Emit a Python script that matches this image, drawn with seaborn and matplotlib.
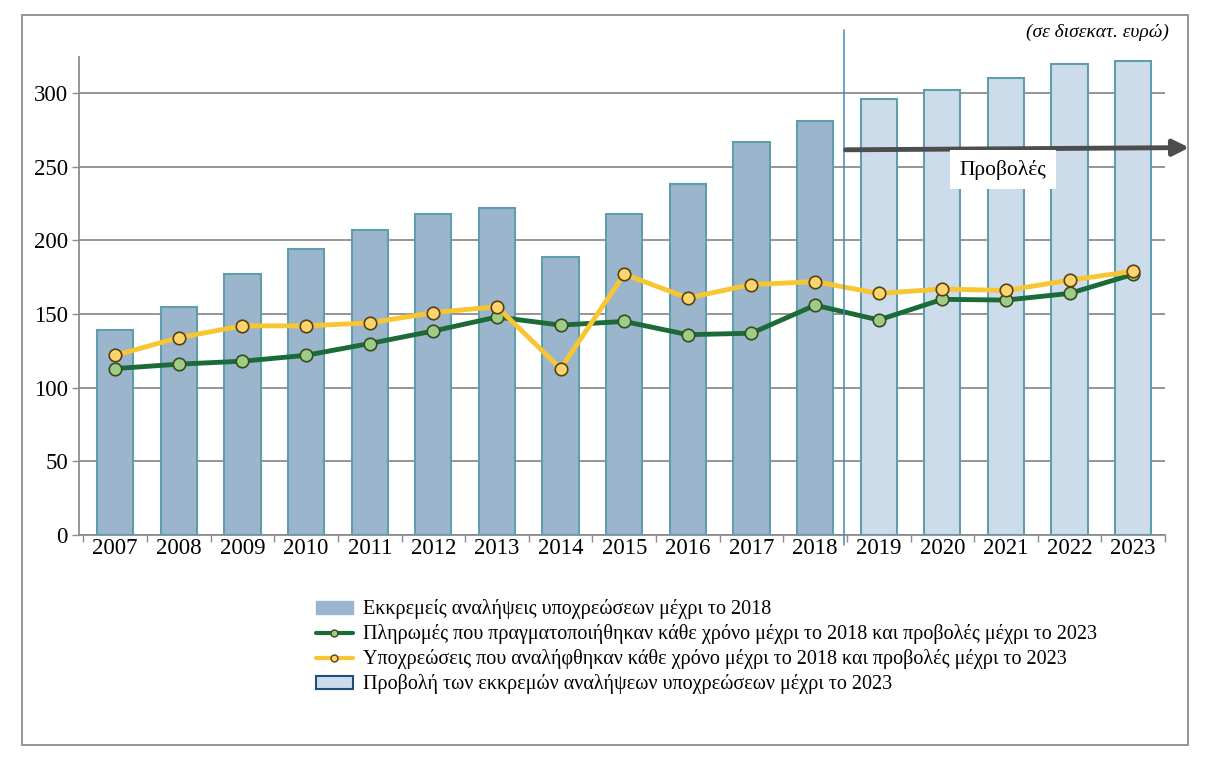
import numpy as np
import pandas as pd
import matplotlib
matplotlib.use("Agg")
import matplotlib.pyplot as plt
import seaborn as sns
from matplotlib.patches import Patch, Rectangle
from matplotlib.lines import Line2D

years = [str(y) for y in range(2007, 2024)]
outstanding = [139, 155, 177, 194, 207, 218, 222, 189, 218, 238, 267, 281,
               296, 302, 310, 320, 322]
payments = [113, 116, 118, 122, 130, 138.5, 148, 142.5, 145, 136, 137, 156,
            146, 160, 159.5, 164, 177]
commitments = [122, 134, 142, 142, 144, 151, 155, 113, 177, 161, 170, 172,
               164, 167, 166, 173, 179]
period = ["hist"] * 12 + ["proj"] * 5

leg_labels = [
    "Εκκρεμείς αναλήψεις υποχρεώσεων μέχρι το 2018",
    "Πληρωμές που πραγματοποιήθηκαν κάθε χρόνο μέχρι το 2018 και προβολές μέχρι το 2023",
    "Υποχρεώσεις που αναλήφθηκαν κάθε χρόνο μέχρι το 2018 και προβολές μέχρι το 2023",
    "Προβολή των εκκρεμών αναλήψεων υποχρεώσεων μέχρι το 2023",
]

sns.set_theme(style="white")
plt.rcParams['font.family'] = ['Liberation Serif', 'DejaVu Serif']
plt.rcParams['text.color'] = 'black'
plt.rcParams['xtick.color'] = 'black'
plt.rcParams['ytick.color'] = 'black'

C_HIST = "#9bb6cc"
C_PROJ = "#cddcea"
C_EDGE = "#5f9ead"
C_GREEN = "#1b6b38"
C_GREEN_M = "#9dcc86"
C_YEL = "#f8c533"
C_YEL_M = "#fcd66c"
C_GRID = "#8c8c8c"

fig = plt.figure(figsize=(12.09, 7.64), dpi=100)
ax = fig.add_axes([0.0653, 0.2997, 0.9636 - 0.0653, 0.9254 - 0.2997])

df = pd.DataFrame({"year": years, "val": outstanding, "period": period})
sns.barplot(data=df, x="year", y="val", hue="period", order=years,
            palette={"hist": C_HIST, "proj": C_PROJ}, dodge=False,
            saturation=1, width=0.57, edgecolor=C_EDGE, linewidth=1.5,
            legend=False, ax=ax, zorder=3)

xs = np.arange(len(years))
sns.lineplot(x=xs, y=payments, color=C_GREEN, lw=3.5, marker="o",
             markersize=9, markerfacecolor=C_GREEN_M, markeredgecolor="#3a4a20",
             markeredgewidth=1.2, ax=ax, zorder=5)
sns.lineplot(x=xs, y=commitments, color=C_YEL, lw=3.5, marker="o",
             markersize=9, markerfacecolor=C_YEL_M, markeredgecolor="#5a4010",
             markeredgewidth=1.2, ax=ax, zorder=6)

ax.set_xlim(-0.57, 16.5)
ax.set_ylim(0, 324.5)
ax.set_yticks([0, 50, 100, 150, 200, 250, 300])
ax.yaxis.grid(True, color=C_GRID, lw=1.3, zorder=0)
ax.set_axisbelow(True)
ax.set_xlabel("")
ax.set_ylabel("")
for s in ["top", "right"]:
    ax.spines[s].set_visible(False)
for s in ["left", "bottom"]:
    ax.spines[s].set_color(C_GRID)
    ax.spines[s].set_linewidth(1.3)
ax.tick_params(axis="y", labelsize=16.5, length=5, color=C_GRID, width=1, pad=3,
               left=True)
ax.set_xticks(xs, years)
ax.tick_params(axis="x", labelsize=16.5, length=0, pad=2)
ax.set_xticks(np.arange(-0.5, 16.6, 1.0), minor=True)
ax.tick_params(axis="x", which="minor", length=5, color=C_GRID, width=1,
               bottom=True, direction="out")

# vertical divider line
ax.plot([11.45, 11.45], [-7, 343], color="#4a86b8", lw=1.1, clip_on=False,
        zorder=7)

# projections arrow
ax.annotate("", xy=(16.88, 263), xytext=(11.48, 261.5), annotation_clip=False,
            arrowprops=dict(arrowstyle="-|>,head_length=0.8,head_width=0.4",
                            color="#4d4d4d", lw=3.5, shrinkA=0, shrinkB=0),
            zorder=8)
ax.text(13.95, 248, "Προβολές", fontsize=15.5, ha="center", va="center",
        zorder=9, bbox=dict(facecolor="white", edgecolor="none", pad=7))

fig.text(0.967, 0.958, "(σε δισεκατ. ευρώ)", fontsize=14, style="italic",
         ha="right", va="center")

# outer frame
fig.patches.append(Rectangle((0.0182, 0.0249), 0.9826 - 0.0182, 0.980 - 0.0249,
                             transform=fig.transFigure, fill=False,
                             edgecolor="#8c8c8c", lw=1.3))

handles = [
    Patch(facecolor=C_HIST, edgecolor=C_HIST),
    Line2D([], [], color=C_GREEN, lw=3, marker="o", markersize=5,
           markerfacecolor=C_GREEN_M, markeredgecolor="#3a4a20"),
    Line2D([], [], color=C_YEL, lw=3, marker="o", markersize=5,
           markerfacecolor=C_YEL_M, markeredgecolor="#5a4010"),
    Patch(facecolor=C_PROJ, edgecolor="#1f4e79", lw=1.5),
]
fig.legend(handles, leg_labels, loc="upper left", bbox_to_anchor=(0.255, 0.226),
           frameon=False, fontsize=14.5, handlelength=1.8, handleheight=0.6,
           handletextpad=0.5, labelspacing=0.25, borderaxespad=0)

fig.savefig("out.png", dpi=100)
